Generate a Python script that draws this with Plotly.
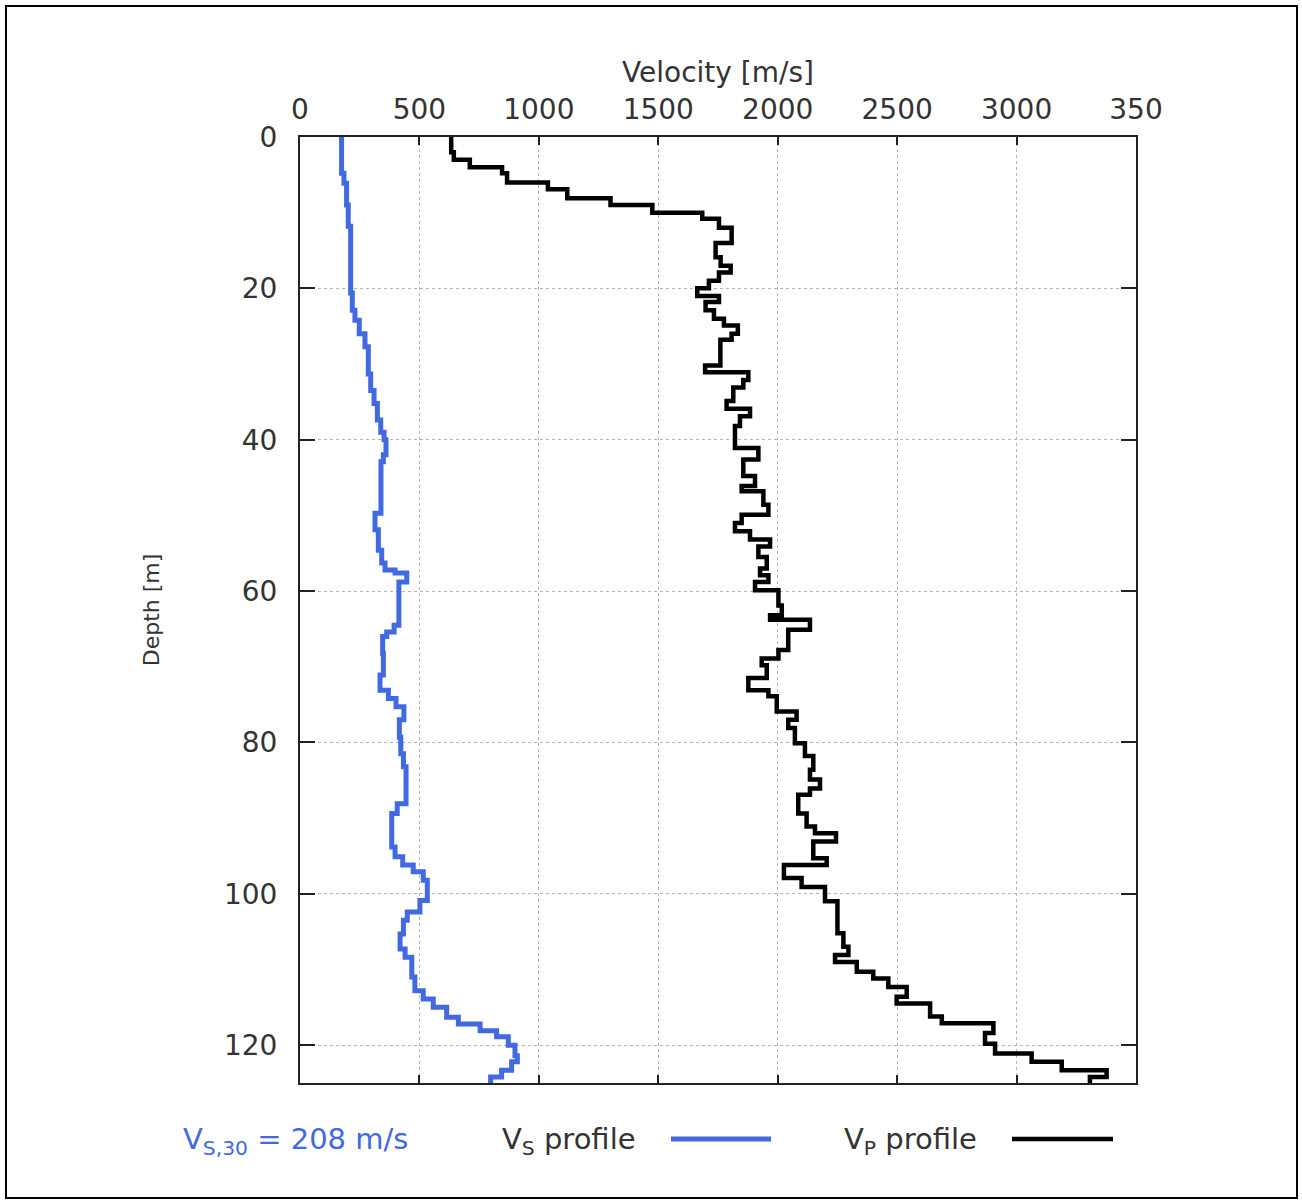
import plotly.graph_objects as go

# ---- data (layer top depth [m], velocity [m/s]) ----
vp_depth = [0, 2.0, 3.0, 4.0, 4.8, 6.0, 6.9, 8.1, 9.0, 10.0, 10.8, 12.0, 14.0, 15.9, 17.0, 17.9,
            19.0, 20.0, 21.0, 21.8, 22.9, 24.0, 24.9, 26.0, 26.8, 30.2, 31.1, 32.1, 33.1, 34.9,
            35.9, 36.9, 38.2, 41.1, 42.6, 44.8, 46.1, 46.8, 48.6, 49.9, 51.0, 52.1, 53.2, 54.1,
            55.5, 57.0, 57.9, 58.8, 59.9, 61.9, 63.2, 63.8, 65.1, 67.8, 68.9, 69.8, 71.5, 73.1,
            73.9, 75.9, 77.0, 78.1, 80.1, 81.8, 83.6, 84.9, 86.1, 86.9, 89.4, 91.1, 92.0, 93.1,
            95.3, 96.2, 97.9, 99.1, 101.0, 105.2, 107.0, 108.1, 109.0, 110.3, 111.2, 112.3,
            113.6, 114.5, 116.2, 117.1, 118.4, 119.8, 121.1, 122.2, 123.3, 124.2, 125.0]
vp_vel = [633, 644, 711, 846, 867, 1038, 1119, 1300, 1475, 1684, 1754, 1807, 1740, 1761, 1803, 1754,
          1712, 1663, 1754, 1698, 1733, 1775, 1833, 1807, 1760, 1696, 1877, 1856, 1814, 1786,
          1884, 1842, 1821, 1919, 1856, 1905, 1849, 1940, 1961, 1849, 1821, 1884, 1968, 1919,
          1954, 1926, 1961, 1905, 2003, 2017, 1968, 2135, 2044, 2003, 1933, 1954, 1877, 1961,
          1996, 2079, 2044, 2072, 2114, 2149, 2135, 2177, 2135, 2086, 2121, 2156, 2244, 2149,
          2205, 2026, 2100, 2198, 2250, 2275, 2296, 2240, 2331, 2400, 2463, 2540,
          2498, 2638, 2687, 2903, 2868, 2910, 3063, 3189, 3377, 3307, 3307]

vs_depth = [0, 4.8, 6.1, 9.0, 11.8, 20.6, 22.9, 24.2, 26.0, 27.7, 31.3, 33.5, 35.2, 37.4, 39.0,
            40.0, 42.0, 42.9, 49.7, 51.9, 54.6, 56.3, 57.2, 57.6, 58.8, 64.5, 65.4, 66.0, 68.2,
            71.1, 73.1, 74.2, 75.3, 77.0, 79.3, 81.5, 83.2, 88.1, 89.4, 93.8, 95.1, 96.2, 97.1,
            98.2, 100.9, 102.4, 103.5, 105.3, 107.3, 108.4, 111.0, 112.8, 113.9, 115.0, 116.3,
            117.2, 118.1, 118.9, 120.0, 121.4, 122.2, 123.3, 124.2, 125.0]
vs_vel = [174, 184, 195, 202, 212, 219, 230, 248, 272, 286, 296, 310, 324, 338, 352,
          360, 349, 339, 314, 328, 342, 356, 398, 447, 414, 394, 363, 346, 349,
          335, 370, 402, 435, 416, 422, 433, 444, 407, 384, 398, 430, 474, 516,
          533, 502, 449, 433, 419, 440, 468, 481, 516, 558, 614, 663,
          754, 823, 872, 900, 910, 886, 844, 798, 798]

x_ticks = [0, 500, 1000, 1500, 2000, 2500, 3000, 3500]
x_ticktext = ["0", "500", "1000", "1500", "2000", "2500", "3000", "350"]
y_ticks = [0, 20, 40, 60, 80, 100, 120]

vs30_text = "V<sub>S,30</sub> = 208 m/s"
vs_label = "V<sub>S</sub> profile"
vp_label = "V<sub>P</sub> profile"

BLUE = "#4169e1"
FONT = "DejaVu Sans"
TXT = "#333333"

fig = go.Figure()
fig.add_trace(go.Scatter(x=vs_vel, y=vs_depth, mode="lines", line_shape="vh",
                         line=dict(color=BLUE, width=5), name="Vs profile", showlegend=False))
fig.add_trace(go.Scatter(x=vp_vel, y=vp_depth, mode="lines", line_shape="vh",
                         line=dict(color="black", width=4.5), name="Vp profile", showlegend=False))

L, R, T, B = 300, 166, 137, 121
W, H = 1302, 1204
pw, ph = W - L - R, H - T - B

def px(x):
    return (x - L) / pw

def py(y):
    return (H - B - y) / ph

fig.update_layout(
    width=W, height=H,
    margin=dict(l=L, r=R, t=T, b=B, autoexpand=False),
    paper_bgcolor="white", plot_bgcolor="white",
    font=dict(family=FONT, color=TXT),
    xaxis=dict(
        side="top", range=[0, 3500], tickvals=x_ticks, ticktext=x_ticktext,
        ticks="inside", ticklen=8, tickwidth=2, tickcolor="#222222",
        showline=True, linecolor="#222222", linewidth=2, mirror="allticks",
        showgrid=True, gridcolor="#b5b5b5", griddash="dot", gridwidth=1,
        zeroline=False, tickfont=dict(size=28, family=FONT, color=TXT),
        ticklabelstandoff=5,
        title=dict(text="Velocity [m/s]", font=dict(size=28, family=FONT, color=TXT), standoff=2),
    ),
    yaxis=dict(
        range=[125, 0], tickvals=y_ticks,
        ticks="inside", ticklen=15, tickwidth=2, tickcolor="#222222",
        showline=True, linecolor="#222222", linewidth=2, mirror="allticks",
        showgrid=True, gridcolor="#b5b5b5", griddash="dot", gridwidth=1,
        zeroline=False, tickfont=dict(size=28, family=FONT, color=TXT),
        ticklabelstandoff=15,
        title=dict(text="Depth [m]", font=dict(size=22, family=FONT, color=TXT), standoff=58),
    ),
)

# legend-like row at the bottom
fig.add_annotation(x=px(295), y=py(1141), xref="paper", yref="paper", text=vs30_text,
                   showarrow=False, xanchor="center", yanchor="middle",
                   font=dict(size=29, family=FONT, color=BLUE))
fig.add_annotation(x=px(569), y=py(1141), xref="paper", yref="paper", text=vs_label,
                   showarrow=False, xanchor="center", yanchor="middle",
                   font=dict(size=29, family=FONT, color=TXT))
fig.add_annotation(x=px(910), y=py(1141), xref="paper", yref="paper", text=vp_label,
                   showarrow=False, xanchor="center", yanchor="middle",
                   font=dict(size=29, family=FONT, color=TXT))
fig.add_shape(type="line", xref="paper", yref="paper", x0=px(671), x1=px(771), y0=py(1139), y1=py(1139),
              line=dict(color=BLUE, width=5))
fig.add_shape(type="line", xref="paper", yref="paper", x0=px(1012), x1=px(1113), y0=py(1139), y1=py(1139),
              line=dict(color="black", width=4.5))

# outer frame
fig.add_shape(type="rect", xref="paper", yref="paper", x0=px(6), x1=px(1297), y0=py(1198), y1=py(6),
              line=dict(color="black", width=2), fillcolor="rgba(0,0,0,0)", layer="above")

fig.write_html("out.html")
